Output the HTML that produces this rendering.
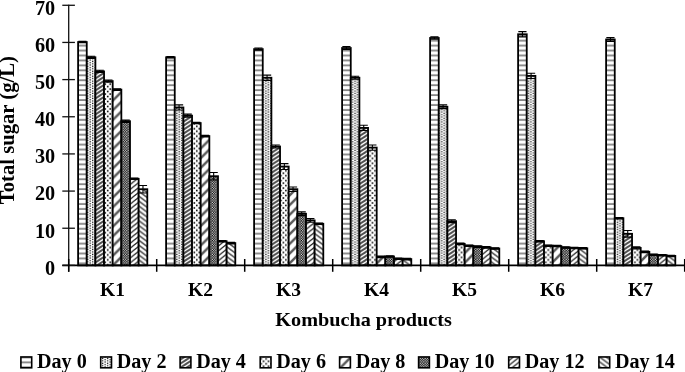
<!DOCTYPE html><html><head><meta charset="utf-8"><title>Kombucha total sugar</title><style>html,body{margin:0;padding:0;background:#fff}svg{display:block}</style></head><body>
<svg width="685" height="372" viewBox="0 0 685 372">
<defs>
<pattern id="p0" width="4.95" height="4.95" patternUnits="userSpaceOnUse"><rect width="4.95" height="4.95" fill="#fff"/><rect y="0.45" width="4.95" height="1.2" fill="#484848"/></pattern>
<pattern id="p1" width="4.95" height="2.475" patternUnits="userSpaceOnUse"><rect width="4.95" height="2.475" fill="#fff"/><rect x="0.5" y="0.1" width="1.3" height="1.2" fill="#111"/><rect x="2.975" y="1.34" width="1.3" height="1.135" fill="#111"/><rect x="2.975" y="0" width="1.3" height="0.065" fill="#111"/></pattern>
<pattern id="p2" width="6.2" height="4" patternUnits="userSpaceOnUse"><rect width="6.2" height="4" fill="#fff"/><path d="M-6.2 8L12.4 -4M-6.2 4L6.2 -4M0 8L12.4 0" stroke="#505050" stroke-width="1.95"/></pattern>
<pattern id="p3" width="4.95" height="4.95" patternUnits="userSpaceOnUse"><rect width="4.95" height="4.95" fill="#fff"/><rect x="2.95" y="1.7" width="1.6" height="1.6" fill="#000"/><rect x="0.5" y="4.17" width="1.6" height="0.78" fill="#000"/><rect x="0.5" y="0" width="1.6" height="0.82" fill="#000"/></pattern>
<pattern id="p4" width="9.7" height="9.7" patternUnits="userSpaceOnUse"><rect width="9.7" height="9.7" fill="#fff"/><path d="M-2 11.7L11.7 -2M-2 2L2 -2M7.7 11.7L11.7 7.7" stroke="#5a5a5a" stroke-width="2.5"/></pattern>
<pattern id="p5" width="2.475" height="2.475" patternUnits="userSpaceOnUse"><rect width="2.475" height="2.475" fill="#000"/><rect x="0.06" y="0.06" width="1.12" height="1.12" fill="#fff"/><rect x="1.3" y="1.3" width="1.12" height="1.12" fill="#fff"/></pattern>
<pattern id="p6" width="6.1" height="4.9" patternUnits="userSpaceOnUse"><rect width="6.1" height="4.9" fill="#fff"/><path d="M-6.1 9.8L12.2 -4.9M-6.1 4.9L6.1 -4.9M0 9.8L12.2 0" stroke="#1a1a1a" stroke-width="1.25"/></pattern>
<pattern id="p7" width="6.6" height="4.9" patternUnits="userSpaceOnUse"><rect width="6.6" height="4.9" fill="#fff"/><path d="M-6.6 -4.9L13.2 9.8M0 -4.9L13.2 4.9M-6.6 0L6.6 9.8" stroke="#505050" stroke-width="1.6"/></pattern>
</defs>
<rect width="685" height="372" fill="#fff"/>
<rect x="78.10" y="42.07" width="8.65" height="223.33" fill="url(#p0)" stroke="#000" stroke-width="1.8"/>
<path d="M82.43 41.33V42.81M78.33 41.33H86.53M78.33 42.81H86.53" stroke="#000" stroke-width="1.1" fill="none"/>
<rect x="86.75" y="57.30" width="8.65" height="208.10" fill="url(#p1)" stroke="#000" stroke-width="1.8"/>
<path d="M91.08 56.19V58.42M86.98 56.19H95.18M86.98 58.42H95.18" stroke="#000" stroke-width="1.1" fill="none"/>
<rect x="95.40" y="71.42" width="8.65" height="193.98" fill="url(#p2)" stroke="#000" stroke-width="1.8"/>
<path d="M99.73 70.31V72.54M95.63 70.31H103.83M95.63 72.54H103.83" stroke="#000" stroke-width="1.1" fill="none"/>
<rect x="104.05" y="81.09" width="8.65" height="184.31" fill="url(#p3)" stroke="#000" stroke-width="1.8"/>
<path d="M108.38 79.97V82.20M104.28 79.97H112.48M104.28 82.20H112.48" stroke="#000" stroke-width="1.1" fill="none"/>
<rect x="112.70" y="89.63" width="8.65" height="175.77" fill="url(#p4)" stroke="#000" stroke-width="1.8"/>
<path d="M117.03 88.89V90.38M112.93 88.89H121.13M112.93 90.38H121.13" stroke="#000" stroke-width="1.1" fill="none"/>
<rect x="121.35" y="121.22" width="8.65" height="144.18" fill="url(#p5)" stroke="#000" stroke-width="1.8"/>
<path d="M125.68 120.10V122.33M121.58 120.10H129.78M121.58 122.33H129.78" stroke="#000" stroke-width="1.1" fill="none"/>
<rect x="130.00" y="178.82" width="8.65" height="86.58" fill="url(#p6)" stroke="#000" stroke-width="1.8"/>
<path d="M134.32 178.07V179.56M130.22 178.07H138.42M130.22 179.56H138.42" stroke="#000" stroke-width="1.1" fill="none"/>
<rect x="138.65" y="189.22" width="8.65" height="76.18" fill="url(#p7)" stroke="#000" stroke-width="1.8"/>
<path d="M142.97 185.51V192.94M138.88 185.51H147.07M138.88 192.94H147.07" stroke="#000" stroke-width="1.1" fill="none"/>
<rect x="166.10" y="57.30" width="8.65" height="208.10" fill="url(#p0)" stroke="#000" stroke-width="1.8"/>
<path d="M170.42 56.56V58.05M166.32 56.56H174.52M166.32 58.05H174.52" stroke="#000" stroke-width="1.1" fill="none"/>
<rect x="174.75" y="107.47" width="8.65" height="157.93" fill="url(#p1)" stroke="#000" stroke-width="1.8"/>
<path d="M179.07 104.87V110.07M174.97 104.87H183.17M174.97 110.07H183.17" stroke="#000" stroke-width="1.1" fill="none"/>
<rect x="183.40" y="115.65" width="8.65" height="149.75" fill="url(#p2)" stroke="#000" stroke-width="1.8"/>
<path d="M187.72 114.16V117.13M183.62 114.16H191.82M183.62 117.13H191.82" stroke="#000" stroke-width="1.1" fill="none"/>
<rect x="192.05" y="123.08" width="8.65" height="142.32" fill="url(#p3)" stroke="#000" stroke-width="1.8"/>
<path d="M196.38 122.33V123.82M192.28 122.33H200.47M192.28 123.82H200.47" stroke="#000" stroke-width="1.1" fill="none"/>
<rect x="200.70" y="136.08" width="8.65" height="129.32" fill="url(#p4)" stroke="#000" stroke-width="1.8"/>
<path d="M205.02 135.34V136.83M200.92 135.34H209.12M200.92 136.83H209.12" stroke="#000" stroke-width="1.1" fill="none"/>
<rect x="209.35" y="176.22" width="8.65" height="89.18" fill="url(#p5)" stroke="#000" stroke-width="1.8"/>
<path d="M213.67 172.50V179.93M209.57 172.50H217.77M209.57 179.93H217.77" stroke="#000" stroke-width="1.1" fill="none"/>
<rect x="218.00" y="241.25" width="8.65" height="24.15" fill="url(#p6)" stroke="#000" stroke-width="1.8"/>
<path d="M222.32 240.50V241.99M218.22 240.50H226.42M218.22 241.99H226.42" stroke="#000" stroke-width="1.1" fill="none"/>
<rect x="226.65" y="243.10" width="8.65" height="22.30" fill="url(#p7)" stroke="#000" stroke-width="1.8"/>
<path d="M230.97 242.36V243.85M226.88 242.36H235.07M226.88 243.85H235.07" stroke="#000" stroke-width="1.1" fill="none"/>
<rect x="254.10" y="49.13" width="8.65" height="216.27" fill="url(#p0)" stroke="#000" stroke-width="1.8"/>
<path d="M258.43 48.01V50.24M254.33 48.01H262.53M254.33 50.24H262.53" stroke="#000" stroke-width="1.1" fill="none"/>
<rect x="262.75" y="77.74" width="8.65" height="187.66" fill="url(#p1)" stroke="#000" stroke-width="1.8"/>
<path d="M267.07 75.14V80.34M262.97 75.14H271.18M262.97 80.34H271.18" stroke="#000" stroke-width="1.1" fill="none"/>
<rect x="271.40" y="146.49" width="8.65" height="118.91" fill="url(#p2)" stroke="#000" stroke-width="1.8"/>
<path d="M275.72 145.00V147.97M271.62 145.00H279.82M271.62 147.97H279.82" stroke="#000" stroke-width="1.1" fill="none"/>
<rect x="280.05" y="166.55" width="8.65" height="98.85" fill="url(#p3)" stroke="#000" stroke-width="1.8"/>
<path d="M284.38 163.58V169.53M280.27 163.58H288.48M280.27 169.53H288.48" stroke="#000" stroke-width="1.1" fill="none"/>
<rect x="288.70" y="189.22" width="8.65" height="76.18" fill="url(#p4)" stroke="#000" stroke-width="1.8"/>
<path d="M293.02 186.99V191.45M288.92 186.99H297.12M288.92 191.45H297.12" stroke="#000" stroke-width="1.1" fill="none"/>
<rect x="297.35" y="213.75" width="8.65" height="51.65" fill="url(#p5)" stroke="#000" stroke-width="1.8"/>
<path d="M301.68 211.89V215.61M297.57 211.89H305.78M297.57 215.61H305.78" stroke="#000" stroke-width="1.1" fill="none"/>
<rect x="306.00" y="220.44" width="8.65" height="44.96" fill="url(#p6)" stroke="#000" stroke-width="1.8"/>
<path d="M310.32 218.58V222.29M306.22 218.58H314.43M306.22 222.29H314.43" stroke="#000" stroke-width="1.1" fill="none"/>
<rect x="314.65" y="223.78" width="8.65" height="41.62" fill="url(#p7)" stroke="#000" stroke-width="1.8"/>
<path d="M318.97 223.04V224.52M314.87 223.04H323.07M314.87 224.52H323.07" stroke="#000" stroke-width="1.1" fill="none"/>
<rect x="342.10" y="48.01" width="8.65" height="217.39" fill="url(#p0)" stroke="#000" stroke-width="1.8"/>
<path d="M346.42 46.53V49.50M342.32 46.53H350.52M342.32 49.50H350.52" stroke="#000" stroke-width="1.1" fill="none"/>
<rect x="350.75" y="77.74" width="8.65" height="187.66" fill="url(#p1)" stroke="#000" stroke-width="1.8"/>
<path d="M355.07 76.26V79.23M350.97 76.26H359.17M350.97 79.23H359.17" stroke="#000" stroke-width="1.1" fill="none"/>
<rect x="359.40" y="127.91" width="8.65" height="137.49" fill="url(#p2)" stroke="#000" stroke-width="1.8"/>
<path d="M363.72 125.31V130.51M359.62 125.31H367.82M359.62 130.51H367.82" stroke="#000" stroke-width="1.1" fill="none"/>
<rect x="368.05" y="147.60" width="8.65" height="117.80" fill="url(#p3)" stroke="#000" stroke-width="1.8"/>
<path d="M372.37 145.00V150.20M368.27 145.00H376.47M368.27 150.20H376.47" stroke="#000" stroke-width="1.1" fill="none"/>
<rect x="376.70" y="256.85" width="8.65" height="8.55" fill="url(#p4)" stroke="#000" stroke-width="1.8"/>
<path d="M381.02 256.11V257.60M376.92 256.11H385.12M376.92 257.60H385.12" stroke="#000" stroke-width="1.1" fill="none"/>
<rect x="385.35" y="256.48" width="8.65" height="8.92" fill="url(#p5)" stroke="#000" stroke-width="1.8"/>
<path d="M389.67 255.74V257.22M385.57 255.74H393.77M385.57 257.22H393.77" stroke="#000" stroke-width="1.1" fill="none"/>
<rect x="394.00" y="258.71" width="8.65" height="6.69" fill="url(#p6)" stroke="#000" stroke-width="1.8"/>
<path d="M398.32 257.97V259.45M394.22 257.97H402.43M394.22 259.45H402.43" stroke="#000" stroke-width="1.1" fill="none"/>
<rect x="402.65" y="259.08" width="8.65" height="6.32" fill="url(#p7)" stroke="#000" stroke-width="1.8"/>
<path d="M406.97 258.34V259.83M402.87 258.34H411.07M402.87 259.83H411.07" stroke="#000" stroke-width="1.1" fill="none"/>
<rect x="430.10" y="37.98" width="8.65" height="227.42" fill="url(#p0)" stroke="#000" stroke-width="1.8"/>
<path d="M434.42 36.68V39.28M430.32 36.68H438.52M430.32 39.28H438.52" stroke="#000" stroke-width="1.1" fill="none"/>
<rect x="438.75" y="106.73" width="8.65" height="158.67" fill="url(#p1)" stroke="#000" stroke-width="1.8"/>
<path d="M443.07 104.87V108.58M438.97 104.87H447.17M438.97 108.58H447.17" stroke="#000" stroke-width="1.1" fill="none"/>
<rect x="447.40" y="221.18" width="8.65" height="44.22" fill="url(#p2)" stroke="#000" stroke-width="1.8"/>
<path d="M451.72 219.69V222.67M447.62 219.69H455.82M447.62 222.67H455.82" stroke="#000" stroke-width="1.1" fill="none"/>
<rect x="456.05" y="243.85" width="8.65" height="21.55" fill="url(#p3)" stroke="#000" stroke-width="1.8"/>
<path d="M460.37 243.10V244.59M456.27 243.10H464.47M456.27 244.59H464.47" stroke="#000" stroke-width="1.1" fill="none"/>
<rect x="464.70" y="245.71" width="8.65" height="19.69" fill="url(#p4)" stroke="#000" stroke-width="1.8"/>
<path d="M469.02 244.96V246.45M464.92 244.96H473.12M464.92 246.45H473.12" stroke="#000" stroke-width="1.1" fill="none"/>
<rect x="473.35" y="246.63" width="8.65" height="18.77" fill="url(#p5)" stroke="#000" stroke-width="1.8"/>
<path d="M477.67 245.89V247.38M473.57 245.89H481.77M473.57 247.38H481.77" stroke="#000" stroke-width="1.1" fill="none"/>
<rect x="482.00" y="247.38" width="8.65" height="18.02" fill="url(#p6)" stroke="#000" stroke-width="1.8"/>
<path d="M486.32 246.63V248.12M482.22 246.63H490.43M482.22 248.12H490.43" stroke="#000" stroke-width="1.1" fill="none"/>
<rect x="490.65" y="248.49" width="8.65" height="16.91" fill="url(#p7)" stroke="#000" stroke-width="1.8"/>
<path d="M494.97 247.75V249.24M490.87 247.75H499.07M490.87 249.24H499.07" stroke="#000" stroke-width="1.1" fill="none"/>
<rect x="518.10" y="34.26" width="8.65" height="231.14" fill="url(#p0)" stroke="#000" stroke-width="1.8"/>
<path d="M522.43 31.66V36.87M518.33 31.66H526.53M518.33 36.87H526.53" stroke="#000" stroke-width="1.1" fill="none"/>
<rect x="526.75" y="75.88" width="8.65" height="189.52" fill="url(#p1)" stroke="#000" stroke-width="1.8"/>
<path d="M531.08 73.28V78.49M526.98 73.28H535.18M526.98 78.49H535.18" stroke="#000" stroke-width="1.1" fill="none"/>
<rect x="535.40" y="241.25" width="8.65" height="24.15" fill="url(#p2)" stroke="#000" stroke-width="1.8"/>
<path d="M539.73 240.50V241.99M535.62 240.50H543.83M535.62 241.99H543.83" stroke="#000" stroke-width="1.1" fill="none"/>
<rect x="544.05" y="245.71" width="8.65" height="19.69" fill="url(#p3)" stroke="#000" stroke-width="1.8"/>
<path d="M548.38 244.96V246.45M544.28 244.96H552.48M544.28 246.45H552.48" stroke="#000" stroke-width="1.1" fill="none"/>
<rect x="552.70" y="246.08" width="8.65" height="19.32" fill="url(#p4)" stroke="#000" stroke-width="1.8"/>
<path d="M557.03 245.33V246.82M552.93 245.33H561.13M552.93 246.82H561.13" stroke="#000" stroke-width="1.1" fill="none"/>
<rect x="561.35" y="247.56" width="8.65" height="17.84" fill="url(#p5)" stroke="#000" stroke-width="1.8"/>
<path d="M565.68 246.82V248.31M561.58 246.82H569.78M561.58 248.31H569.78" stroke="#000" stroke-width="1.1" fill="none"/>
<rect x="570.00" y="247.93" width="8.65" height="17.47" fill="url(#p6)" stroke="#000" stroke-width="1.8"/>
<path d="M574.33 247.19V248.68M570.23 247.19H578.43M570.23 248.68H578.43" stroke="#000" stroke-width="1.1" fill="none"/>
<rect x="578.65" y="248.31" width="8.65" height="17.09" fill="url(#p7)" stroke="#000" stroke-width="1.8"/>
<path d="M582.98 247.56V249.05M578.88 247.56H587.08M578.88 249.05H587.08" stroke="#000" stroke-width="1.1" fill="none"/>
<rect x="606.10" y="39.47" width="8.65" height="225.93" fill="url(#p0)" stroke="#000" stroke-width="1.8"/>
<path d="M610.43 37.61V41.33M606.33 37.61H614.53M606.33 41.33H614.53" stroke="#000" stroke-width="1.1" fill="none"/>
<rect x="614.75" y="218.21" width="8.65" height="47.19" fill="url(#p1)" stroke="#000" stroke-width="1.8"/>
<path d="M619.08 217.46V218.95M614.98 217.46H623.18M614.98 218.95H623.18" stroke="#000" stroke-width="1.1" fill="none"/>
<rect x="623.40" y="233.81" width="8.65" height="31.59" fill="url(#p2)" stroke="#000" stroke-width="1.8"/>
<path d="M627.73 230.47V237.16M623.62 230.47H631.83M623.62 237.16H631.83" stroke="#000" stroke-width="1.1" fill="none"/>
<rect x="632.05" y="247.93" width="8.65" height="17.47" fill="url(#p3)" stroke="#000" stroke-width="1.8"/>
<path d="M636.38 246.82V249.05M632.28 246.82H640.48M632.28 249.05H640.48" stroke="#000" stroke-width="1.1" fill="none"/>
<rect x="640.70" y="251.84" width="8.65" height="13.56" fill="url(#p4)" stroke="#000" stroke-width="1.8"/>
<path d="M645.03 251.09V252.58M640.93 251.09H649.13M640.93 252.58H649.13" stroke="#000" stroke-width="1.1" fill="none"/>
<rect x="649.35" y="254.81" width="8.65" height="10.59" fill="url(#p5)" stroke="#000" stroke-width="1.8"/>
<path d="M653.68 254.07V255.55M649.58 254.07H657.78M649.58 255.55H657.78" stroke="#000" stroke-width="1.1" fill="none"/>
<rect x="658.00" y="255.18" width="8.65" height="10.22" fill="url(#p6)" stroke="#000" stroke-width="1.8"/>
<path d="M662.33 254.44V255.92M658.23 254.44H666.43M658.23 255.92H666.43" stroke="#000" stroke-width="1.1" fill="none"/>
<rect x="666.65" y="255.92" width="8.65" height="9.48" fill="url(#p7)" stroke="#000" stroke-width="1.8"/>
<path d="M670.98 255.18V256.67M666.88 255.18H675.08M666.88 256.67H675.08" stroke="#000" stroke-width="1.1" fill="none"/>
<path d="M68.7 4.7V271.79999999999995" stroke="#111" stroke-width="1.3" fill="none"/>
<path d="M62.300000000000004 265.4H685.7" stroke="#000" stroke-width="1.6" fill="none"/>
<path d="M62.300000000000004 265.40H74.9" stroke="#111" stroke-width="1.3"/>
<text transform="translate(55.20 274.70) scale(1.012 1)" text-anchor="end" font-family="Liberation Serif, serif" font-weight="bold" font-size="20">0</text>
<path d="M62.300000000000004 228.24H74.9" stroke="#111" stroke-width="1.3"/>
<text transform="translate(55.20 237.54) scale(1.012 1)" text-anchor="end" font-family="Liberation Serif, serif" font-weight="bold" font-size="20">10</text>
<path d="M62.300000000000004 191.08H74.9" stroke="#111" stroke-width="1.3"/>
<text transform="translate(55.20 200.38) scale(1.012 1)" text-anchor="end" font-family="Liberation Serif, serif" font-weight="bold" font-size="20">20</text>
<path d="M62.300000000000004 153.92H74.9" stroke="#111" stroke-width="1.3"/>
<text transform="translate(55.20 163.22) scale(1.012 1)" text-anchor="end" font-family="Liberation Serif, serif" font-weight="bold" font-size="20">30</text>
<path d="M62.300000000000004 116.76H74.9" stroke="#111" stroke-width="1.3"/>
<text transform="translate(55.20 126.06) scale(1.012 1)" text-anchor="end" font-family="Liberation Serif, serif" font-weight="bold" font-size="20">40</text>
<path d="M62.300000000000004 79.60H74.9" stroke="#111" stroke-width="1.3"/>
<text transform="translate(55.20 88.90) scale(1.012 1)" text-anchor="end" font-family="Liberation Serif, serif" font-weight="bold" font-size="20">50</text>
<path d="M62.300000000000004 42.44H74.9" stroke="#111" stroke-width="1.3"/>
<text transform="translate(55.20 51.74) scale(1.012 1)" text-anchor="end" font-family="Liberation Serif, serif" font-weight="bold" font-size="20">60</text>
<path d="M62.300000000000004 5.28H74.9" stroke="#111" stroke-width="1.3"/>
<text transform="translate(55.20 14.58) scale(1.012 1)" text-anchor="end" font-family="Liberation Serif, serif" font-weight="bold" font-size="20">70</text>
<path d="M68.70 259.0V271.79999999999995" stroke="#000" stroke-width="1.5"/>
<path d="M156.70 259.0V271.79999999999995" stroke="#000" stroke-width="1.5"/>
<path d="M244.70 259.0V271.79999999999995" stroke="#000" stroke-width="1.5"/>
<path d="M332.70 259.0V271.79999999999995" stroke="#000" stroke-width="1.5"/>
<path d="M420.70 259.0V271.79999999999995" stroke="#000" stroke-width="1.5"/>
<path d="M508.70 259.0V271.79999999999995" stroke="#000" stroke-width="1.5"/>
<path d="M596.70 259.0V271.79999999999995" stroke="#000" stroke-width="1.5"/>
<path d="M684.70 259.0V271.79999999999995" stroke="#000" stroke-width="1.5"/>
<text transform="translate(112.50 296.30) scale(1.0 1)" text-anchor="middle" font-family="Liberation Serif, serif" font-weight="bold" font-size="19.5">K1</text>
<text transform="translate(200.50 296.30) scale(1.0 1)" text-anchor="middle" font-family="Liberation Serif, serif" font-weight="bold" font-size="19.5">K2</text>
<text transform="translate(288.50 296.30) scale(1.0 1)" text-anchor="middle" font-family="Liberation Serif, serif" font-weight="bold" font-size="19.5">K3</text>
<text transform="translate(376.50 296.30) scale(1.0 1)" text-anchor="middle" font-family="Liberation Serif, serif" font-weight="bold" font-size="19.5">K4</text>
<text transform="translate(464.50 296.30) scale(1.0 1)" text-anchor="middle" font-family="Liberation Serif, serif" font-weight="bold" font-size="19.5">K5</text>
<text transform="translate(552.50 296.30) scale(1.0 1)" text-anchor="middle" font-family="Liberation Serif, serif" font-weight="bold" font-size="19.5">K6</text>
<text transform="translate(640.50 296.30) scale(1.0 1)" text-anchor="middle" font-family="Liberation Serif, serif" font-weight="bold" font-size="19.5">K7</text>
<text transform="translate(363.60 325.50) scale(1.033 1)" text-anchor="middle" font-family="Liberation Serif, serif" font-weight="bold" font-size="19.6">Kombucha products</text>
<text transform="translate(14 130.1) rotate(-90) scale(1.034 1)" text-anchor="middle" font-family="Liberation Serif, serif" font-weight="bold" font-size="20">Total sugar (g/L)</text>
<rect x="20.90" y="356.95" width="10.8" height="10.85" fill="url(#p0)" stroke="#000" stroke-width="1.6"/>
<text transform="translate(37.00 367.60) scale(1.006 1)" text-anchor="start" font-family="Liberation Serif, serif" font-weight="bold" font-size="20">Day 0</text>
<rect x="100.70" y="356.95" width="10.8" height="10.85" fill="url(#p1)" stroke="#000" stroke-width="1.6"/>
<text transform="translate(116.80 367.60) scale(1.006 1)" text-anchor="start" font-family="Liberation Serif, serif" font-weight="bold" font-size="20">Day 2</text>
<rect x="180.10" y="356.95" width="10.8" height="10.85" fill="url(#p2)" stroke="#000" stroke-width="1.6"/>
<text transform="translate(196.20 367.60) scale(1.006 1)" text-anchor="start" font-family="Liberation Serif, serif" font-weight="bold" font-size="20">Day 4</text>
<rect x="260.20" y="356.95" width="10.8" height="10.85" fill="url(#p3)" stroke="#000" stroke-width="1.6"/>
<text transform="translate(276.30 367.60) scale(1.006 1)" text-anchor="start" font-family="Liberation Serif, serif" font-weight="bold" font-size="20">Day 6</text>
<rect x="339.60" y="356.95" width="10.8" height="10.85" fill="url(#p4)" stroke="#000" stroke-width="1.6"/>
<text transform="translate(355.70 367.60) scale(1.006 1)" text-anchor="start" font-family="Liberation Serif, serif" font-weight="bold" font-size="20">Day 8</text>
<rect x="418.60" y="356.95" width="10.8" height="10.85" fill="url(#p5)" stroke="#000" stroke-width="1.6"/>
<text transform="translate(434.70 367.60) scale(1.006 1)" text-anchor="start" font-family="Liberation Serif, serif" font-weight="bold" font-size="20">Day 10</text>
<rect x="508.70" y="356.95" width="10.8" height="10.85" fill="url(#p6)" stroke="#000" stroke-width="1.6"/>
<text transform="translate(524.80 367.60) scale(1.006 1)" text-anchor="start" font-family="Liberation Serif, serif" font-weight="bold" font-size="20">Day 12</text>
<rect x="598.90" y="356.95" width="10.8" height="10.85" fill="url(#p7)" stroke="#000" stroke-width="1.6"/>
<text transform="translate(615.00 367.60) scale(1.006 1)" text-anchor="start" font-family="Liberation Serif, serif" font-weight="bold" font-size="20">Day 14</text>
</svg></body></html>
